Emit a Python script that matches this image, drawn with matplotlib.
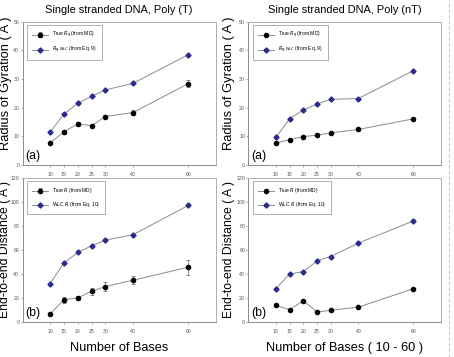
import matplotlib.pyplot as plt
from matplotlib.lines import Line2D

plt.rcParams["font.family"] = ["Liberation Sans", "DejaVu Sans"]

bases = [10, 15, 20, 25, 30, 40, 60]

# Poly (T)
rg_true_t = [7.7, 11.6, 14.3, 13.7, 16.9, 18.3, 28.4]
rg_true_t_err = [0.4, 0.4, 0.7, 0.4, 0.4, 0.8, 1.3]
rg_wlc_t = [11.4, 17.8, 21.5, 24.0, 26.2, 28.5, 38.5]
r_true_t = [6.4, 18.4, 19.8, 25.4, 29.3, 34.6, 45.5]
r_true_t_err = [1.0, 2.5, 2.0, 3.0, 3.8, 3.5, 6.3]
r_wlc_t = [31.8, 49.1, 57.8, 63.4, 68.1, 72.6, 97.1]

# Poly (nT)
rg_true_nt = [7.6, 8.8, 9.9, 10.4, 11.2, 12.4, 16.1]
rg_wlc_nt = [9.6, 16.1, 19.2, 21.3, 22.9, 23.2, 32.9]
r_true_nt = [13.5, 10.1, 17.4, 8.1, 9.5, 12.1, 27.5]
r_wlc_nt = [27.5, 39.8, 41.8, 50.7, 54.4, 65.6, 84.1]

GRAY = "#8c8c8c"
BLUE = "#2b2b8c"


def style_axes(ax, ymax, ystep):
    ax.set_xlim(0, 70)
    ax.set_ylim(0, ymax)
    ax.set_xticks(bases)
    ax.set_yticks(range(0, ymax + 1, ystep))
    ax.tick_params(labelsize=3.7, length=1.6, width=0.5, color=GRAY,
                   labelcolor="#555555", pad=0.8)
    ax.tick_params(axis="x", pad=3.5)
    for side in ("top", "right"):
        ax.spines[side].set_color("#b0b0b0")
    for side in ("left", "bottom"):
        ax.spines[side].set_color(GRAY)
    for s in ax.spines.values():
        s.set_linewidth(0.7)


def draw(ax, true, wlc, true_err, labels, ymax, ystep, tag):
    ax.plot(bases, wlc, color=GRAY, lw=0.7, marker="D", ms=2.6,
            mfc=BLUE, mec=BLUE, label=labels[1], zorder=3)
    if true_err is not None:
        ax.errorbar(bases, true, yerr=true_err, color=GRAY, lw=0.7,
                    marker="o", ms=3, mfc="black", mec="black",
                    ecolor="#777777", elinewidth=0.6, capsize=1.5,
                    capthick=0.6, label=labels[0], zorder=3)
    else:
        ax.plot(bases, true, color=GRAY, lw=0.7, marker="o", ms=3,
                mfc="black", mec="black", label=labels[0], zorder=3)
    style_axes(ax, ymax, ystep)
    h, l = ax.get_legend_handles_labels()
    leg = ax.legend(h[::-1], l[::-1], loc="upper left", fontsize=3.6,
                    frameon=True, fancybox=False, edgecolor=GRAY,
                    borderpad=1.0, handlelength=3.2, handletextpad=0.8,
                    labelspacing=1.0, borderaxespad=0,
                    bbox_to_anchor=(0.023, 0.977))
    leg.get_frame().set_linewidth(0.6)
    ax.text(0.013, 0.02, tag, transform=ax.transAxes, fontsize=8.8,
            va="bottom")


fig = plt.figure(figsize=(4.54, 3.57), dpi=100)
ax_tl = fig.add_axes([0.0496, 0.538, 0.426, 0.401])
ax_tr = fig.add_axes([0.547, 0.538, 0.424, 0.401])
ax_bl = fig.add_axes([0.0496, 0.099, 0.426, 0.4025])
ax_br = fig.add_axes([0.547, 0.099, 0.424, 0.4025])

rg_labels = ["True $R_g$ (from MD)", "$R_{g,WLC}$ (from Eq. 9)"]
r_labels = ["True $R$ (from MD)", "WLC $R$ (from Eq. 10)"]

draw(ax_tl, rg_true_t, rg_wlc_t, rg_true_t_err, rg_labels, 50, 10, "(a)")
draw(ax_tr, rg_true_nt, rg_wlc_nt, None, rg_labels, 50, 10, "(a)")
draw(ax_bl, r_true_t, r_wlc_t, r_true_t_err, r_labels, 120, 20, "(b)")
draw(ax_br, r_true_nt, r_wlc_nt, None, r_labels, 120, 20, "(b)")

ax_tl.set_title("Single stranded DNA, Poly (T)", fontsize=7.9, pad=6)
ax_tr.set_title("Single stranded DNA, Poly (nT)", fontsize=7.9, pad=6)
for ax in (ax_tl, ax_tr):
    ax.set_ylabel("Radius of Gyration ( A )", fontsize=9.3)
for ax in (ax_bl, ax_br):
    ax.set_ylabel("End-to-end Distance ( A )", fontsize=8.8)
ax_tl.yaxis.set_label_coords(-0.054, 0.57)
ax_bl.yaxis.set_label_coords(-0.062, 0.5)
ax_tr.yaxis.set_label_coords(-0.067, 0.57)
ax_br.yaxis.set_label_coords(-0.07, 0.5)

ax_bl.set_xlabel("Number of Bases", fontsize=9.2)
ax_br.set_xlabel("Number of Bases ( 10 - 60 )", fontsize=9.2)
ax_bl.xaxis.set_label_coords(0.5, -0.145)
ax_br.xaxis.set_label_coords(0.5, -0.145)

fig.add_artist(Line2D([449 / 454, 449 / 454], [0, 1], color="#c8c8c8",
                      lw=0.8, ls=(0, (3, 2))))

fig.savefig("out.png", dpi=100)
